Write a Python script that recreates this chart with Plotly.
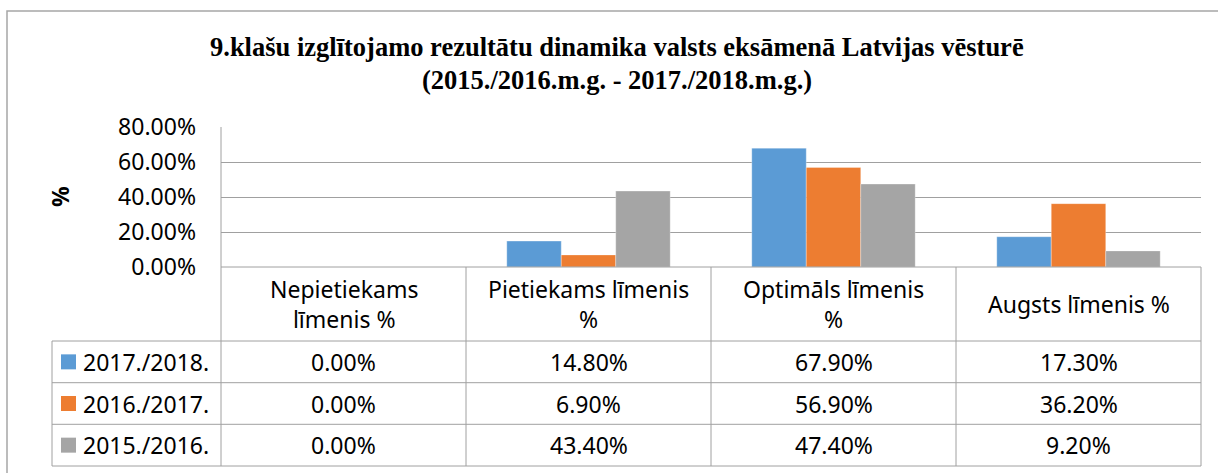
import plotly.graph_objects as go

categories = ["Nepietiekams līmenis %", "Pietiekams līmenis %", "Optimāls līmenis %", "Augsts līmenis %"]
header_labels = ["Nepietiekams<br>līmenis %", "Pietiekams līmenis<br>%", "Optimāls līmenis<br>%", "Augsts līmenis %"]
series_names = ["2017./2018.", "2016./2017.", "2015./2016."]
v_2017_2018 = [0.0, 14.8, 67.9, 17.3]
v_2016_2017 = [0.0, 6.9, 56.9, 36.2]
v_2015_2016 = [0.0, 43.4, 47.4, 9.2]
series_values = [v_2017_2018, v_2016_2017, v_2015_2016]
colors = ["#5B9BD5", "#ED7D31", "#A5A5A5"]
title_lines = ["9.klašu izglītojamo rezultātu dinamika valsts eksāmenā Latvijas vēsturē",
               "(2015./2016.m.g. - 2017./2018.m.g.)"]

W, H = 1218, 473
def px(x):
    return x / W
def py(y):
    return 1 - y / H

FONT = "Noto Sans"
LINE = "#A0A0A0"
TXT = 23

plot_l, plot_r, plot_t, plot_b = 221, 1201, 127, 267
col_x = [221, 466, 711, 956, 1201]
leg_l = 52
row_y = [341, 382.7, 424.3, 466]

fig = go.Figure()
for name, vals, c in zip(series_names, series_values, colors):
    fig.add_trace(go.Bar(
        x=categories, y=[v / 100 for v in vals], name=name,
        marker=dict(color=c, line=dict(color="rgba(255,255,255,0.6)", width=0.5)),
        showlegend=False,
    ))

shapes = []
def hline(y, x0, x1):
    shapes.append(dict(type="line", xref="paper", yref="paper", x0=px(x0), x1=px(x1),
                       y0=py(y), y1=py(y), line=dict(color=LINE, width=1)))
def vline(x, y0, y1):
    shapes.append(dict(type="line", xref="paper", yref="paper", x0=px(x), x1=px(x),
                       y0=py(y0), y1=py(y1), line=dict(color=LINE, width=1)))

# outer chart border
shapes.append(dict(type="rect", xref="paper", yref="paper", x0=px(7), x1=px(1230),
                   y0=py(490), y1=py(11), line=dict(color="#A6A6A6", width=1.5)))

# table grid
hline(plot_b, plot_l, plot_r)
for y in row_y:
    hline(y, leg_l, plot_r)
vline(leg_l, row_y[0], row_y[-1])
vline(plot_l, plot_t, row_y[-1])
for x in col_x[1:]:
    vline(x, plot_b, row_y[-1])

annotations = []
# title
for ty, line in zip([47, 80], title_lines):
    annotations.append(dict(text="<b>" + line + "</b>", x=px(617), y=py(ty), xref="paper", yref="paper",
                            showarrow=False, xanchor="center", yanchor="middle",
                            font=dict(family="Liberation Serif", size=26.5, color="#000")))
# y axis title
annotations.append(dict(text="<b>%</b>", x=px(60), y=py(197), xref="paper", yref="paper",
                        showarrow=False, textangle=-90, xanchor="center", yanchor="middle",
                        font=dict(family=FONT, size=23, color="#000")))

# header cells
for i, lab in enumerate(header_labels):
    cx = (col_x[i] + col_x[i + 1]) / 2
    annotations.append(dict(text=lab, x=px(cx), y=py((plot_b + row_y[0]) / 2), xref="paper", yref="paper",
                            showarrow=False, xanchor="center", yanchor="middle",
                            font=dict(family=FONT, size=TXT, color="#000")))
# data rows
for r, (name, vals, c) in enumerate(zip(series_names, series_values, colors)):
    cy = (row_y[r] + row_y[r + 1]) / 2
    shapes.append(dict(type="rect", xref="paper", yref="paper", x0=px(61), x1=px(76),
                       y0=py(cy + 7.5), y1=py(cy - 7.5), fillcolor=c, line=dict(width=0)))
    annotations.append(dict(text=name, x=px(81), y=py(cy), xref="paper", yref="paper",
                            showarrow=False, xanchor="left", yanchor="middle",
                            font=dict(family=FONT, size=TXT, color="#000")))
    for i, v in enumerate(vals):
        cx = (col_x[i] + col_x[i + 1]) / 2
        annotations.append(dict(text=f"{v:.2f}%", x=px(cx), y=py(cy), xref="paper", yref="paper",
                                showarrow=False, xanchor="center", yanchor="middle",
                                font=dict(family=FONT, size=TXT, color="#000")))

fig.update_layout(
    width=W, height=H,
    margin=dict(l=0, r=0, t=0, b=0, pad=0, autoexpand=False),
    paper_bgcolor="white", plot_bgcolor="white",
    barmode="group", bargap=0.333, bargroupgap=0,
    xaxis=dict(domain=[px(plot_l), px(plot_r)], showticklabels=False, showgrid=False,
               zeroline=False, showline=False, range=[-0.5, 3.5], fixedrange=True, automargin=False),
    yaxis=dict(domain=[py(plot_b), py(plot_t)], range=[0, 0.8], tickvals=[0, 0.2, 0.4, 0.6, 0.8],
               tickformat=".2%", showgrid=True, gridcolor=LINE, gridwidth=1, zeroline=False,
               showline=False, ticks="", ticklabelstandoff=24, automargin=False, fixedrange=True,
               tickfont=dict(family=FONT, size=23, color="#000")),
    shapes=shapes, annotations=annotations,
    font=dict(family=FONT),
)

fig.write_html("out.html", config={"displayModeBar": False},
               post_script="document.body.style.margin='0';document.body.style.padding='0';"
                           "document.body.style.overflow='hidden';"
                           "document.documentElement.style.overflow='hidden';"
                           "window.dispatchEvent(new Event('resize'));")
